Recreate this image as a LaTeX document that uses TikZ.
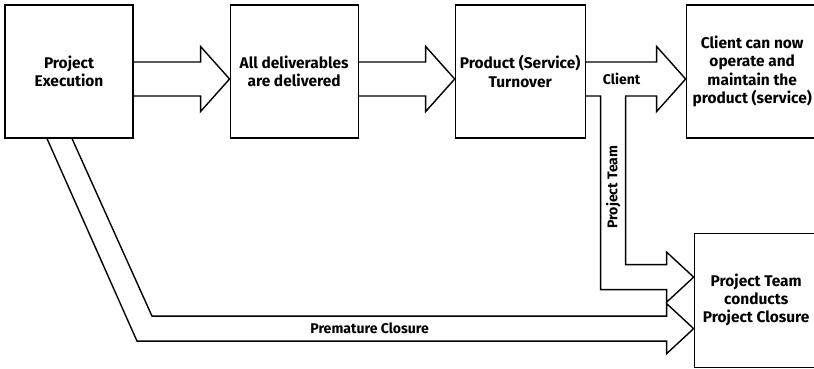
\documentclass[tikz,border=0pt]{standalone}
\usepackage{fontspec}
\setmainfont{Fira Sans}
\usetikzlibrary{positioning, calc}
\tikzset{
  box/.style={rectangle, minimum width=3.2cm, minimum height=3.325cm, align=center, draw=black, thick, font=\fontsize{11}{13}\selectfont\bfseries},
  fat/.style={draw=black, line width=1pt, line join=miter},
  lbl/.style={font=\fontsize{10}{12}\selectfont\bfseries, inner sep=1pt}
}
\begin{document}
\begin{tikzpicture}
        \useasboundingbox (0,0) rectangle (20.35,-9.2);

        % === upper row ===
        \node (exec) [box] at (1.725,-1.7875) {Project\\Execution};
        \node (deliv) [box, right=2.4cm of exec] {All deliverables\\are delivered};
        \node (turn) [box, right=2.4cm of deliv] {Product (Service)\\Turnover};
        \node (client) [box, minimum width=3.3cm, right=2.5cm of turn] {Client can now\\operate and\\maintain the\\product (service)};

        % === closure box ===
        \node (close) [box, minimum width=3.1cm, minimum height=3.35cm, below=2.35cm of client, xshift=1mm] {Project Team\\conducts\\Project Closure};

        \coordinate (axis) at (0,-1.975);
        \coordinate (ptip) at ($(close.west)+(0,0.575)$);
        \coordinate (pctip) at ($(close.west)+(0,-0.7125)$);

        % big arrows along the top
        \draw [fat] ($(exec.east|-axis)+(0,0.425)$) -- ($(deliv.west|-axis)+(-0.725,0.425)$) -- ++(0,0.3875)
            -- (deliv.west|-axis) -- ($(deliv.west|-axis)+(-0.725,-0.8125)$) -- ++(0,0.3875)
            -- ($(exec.east|-axis)+(0,-0.425)$);
        \draw [fat] ($(deliv.east|-axis)+(0,0.425)$) -- ($(turn.west|-axis)+(-0.725,0.425)$) -- ++(0,0.3875)
            -- (turn.west|-axis) -- ($(turn.west|-axis)+(-0.725,-0.8125)$) -- ++(0,0.3875)
            -- ($(deliv.east|-axis)+(0,-0.425)$);

        % client arrow with the project team branch
        \draw [fat] ($(turn.east|-axis)+(0,0.425)$) -- ($(client.west|-axis)+(-0.725,0.425)$) -- ++(0,0.3875)
            -- (client.west|-axis) -- ($(client.west|-axis)+(-0.725,-0.8125)$) -- ++(0,0.3875)
            -- ($(turn.east|-axis)+(1.0,-0.425)$) -- ($(turn.east|-ptip)+(1.0,0.3125)$)
            -- ($(ptip)+(-0.675,0.3125)$) -- ++(0,0.3125) -- (ptip) -- ($(ptip)+(-0.675,-0.625)$) -- ++(0,0.3125)
            -- ($(turn.east|-ptip)+(0.375,-0.3125)$) -- ($(turn.east|-axis)+(0.375,-0.425)$)
            -- ($(turn.east|-axis)+(0,-0.425)$);
        \node (clientlbl) [lbl] at ($(turn.east|-axis)+(0.9,0)$) {Client};
        \node (teamlbl) [lbl, rotate=90] at ($(turn.east|-axis)+(0.6875,-2.7)$) {Project Team};

        % premature closure
        \draw [fat] ($(exec.south)+(0.075,0)$) -- ($(exec.south|-pctip)+(2.075,0.3125)$)
            -- ($(pctip)+(-0.675,0.3125)$) -- ++(0,0.3125) -- (pctip) -- ($(pctip)+(-0.675,-0.625)$) -- ++(0,0.3125)
            -- ($(exec.south|-pctip)+(1.7,-0.3125)$) -- ($(exec.south)+(-0.55,0)$);
        \node (prelbl) [lbl] at ($(pctip)+(-8.1,0)$) {Premature Closure};

    \end{tikzpicture}
\end{document}
